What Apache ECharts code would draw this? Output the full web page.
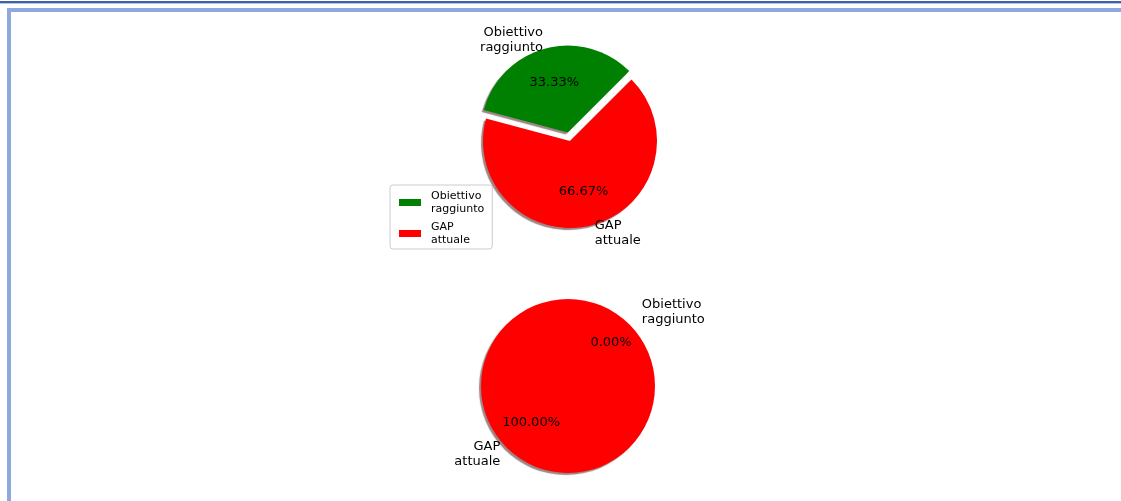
<!DOCTYPE html>
<html>
<head>
<meta charset="utf-8">
<script src="https://cdn.jsdelivr.net/npm/echarts@6/dist/echarts.min.js"></script>
<style>
  html, body { margin: 0; padding: 0; background: #fff; }
  #wrap { position: relative; width: 1121px; height: 501px; overflow: hidden; background: #fff; }
  #chart { position: absolute; left: 0; top: 0; width: 1121px; height: 501px; }
  .ln { position: absolute; }
</style>
</head>
<body>
<div id="wrap">
  <div class="ln" style="left:0;top:1px;width:1121px;height:2px;background:#3d60a8;"></div>
  <div class="ln" style="left:0;top:3px;width:1121px;height:1px;background:#b5c6e6;"></div>
  <div class="ln" style="left:7px;top:8px;width:1114px;height:4px;background:#8eaadc;"></div>
  <div class="ln" style="left:7px;top:8px;width:4px;height:493px;background:#8eaadc;"></div>
  <div id="chart"></div>
</div>
<script>
const categories = ['Obiettivo\nraggiunto', 'GAP\nattuale'];
const pie1Values = [33.33, 66.67];
const pie2Values = [0, 100];
const colors = ['#008000', '#ff0000'];
const explode = [true, false];

const R = 87;
const labelFont = { fontFamily: 'DejaVu Sans', fontSize: 13, color: '#000', lineHeight: 15 };

function items(values) {
  return values.map((v, i) => ({
    name: categories[i],
    value: v,
    selected: explode[i],
    itemStyle: { color: colors[i] }
  }));
}

function pieSeries(center, values) {
  const visible = {
    type: 'pie',
    center: center,
    radius: [0, R],
    startAngle: 45,
    clockwise: false,
    selectedMode: 'multiple',
    selectedOffset: 8.7,
    avoidLabelOverlap: false,
    animation: false,
    silent: true,
    data: items(values),
    itemStyle: {
      shadowColor: 'rgba(90,50,50,0.6)',
      shadowBlur: 1,
      shadowOffsetX: -2,
      shadowOffsetY: 2
    },
    label: Object.assign({ show: true, position: 'outside', distanceToLabelLine: 0, formatter: '{b}' }, labelFont),
    labelLine: { show: false, length: 8.7, length2: 0 },
    emphasis: { disabled: true }
  };
  const pct = {
    type: 'pie',
    center: center,
    radius: [0, 98.4],
    startAngle: 45,
    clockwise: false,
    selectedMode: 'multiple',
    selectedOffset: 8.7,
    avoidLabelOverlap: false,
    animation: false,
    silent: true,
    data: items(values).map(d => Object.assign(d, { itemStyle: { color: 'rgba(0,0,0,0)' } })),
    label: Object.assign({ show: true, position: 'inside', formatter: p => p.value.toFixed(2) + '%' }, labelFont),
    labelLine: { show: false },
    emphasis: { disabled: true },
    z: 3
  };
  return [visible, pct];
}

const chart = echarts.init(document.getElementById('chart'), null, { renderer: 'canvas' });
chart.setOption({
  backgroundColor: 'transparent',
  legend: {
    orient: 'vertical',
    left: 390,
    top: 185,
    data: categories,
    icon: 'rect',
    itemWidth: 22,
    itemHeight: 7,
    itemGap: 6,
    padding: [5, 8, 3, 9],
    backgroundColor: '#fff',
    borderColor: '#cccccc',
    borderWidth: 1,
    borderRadius: 3,
    selectedMode: false,
    textStyle: { fontFamily: 'DejaVu Sans', fontSize: 11, lineHeight: 12.5, color: '#000', padding: [0, 0, 0, 5] }
  },
  series: [
    ...pieSeries([570, 141], pie1Values),
    ...pieSeries([568, 386], pie2Values)
  ]
});
</script>
</body>
</html>
